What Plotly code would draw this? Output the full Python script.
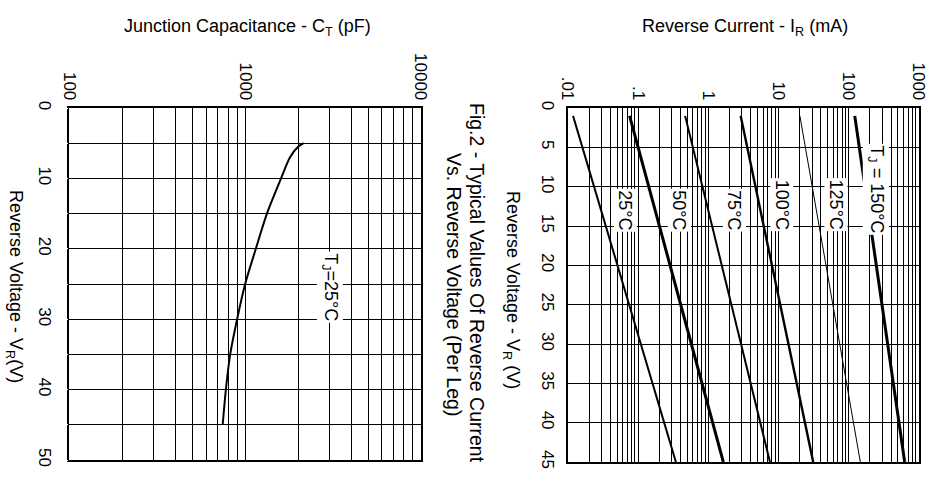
import plotly.graph_objects as go

W, H = 935, 481

# ---- data ----
cap_v = [5.0, 5.5, 7, 10, 15, 20, 25, 30, 35, 40, 45]
cap_pf = [2150, 2000, 1800, 1600, 1330, 1150, 1000, 900, 822, 777, 745]

ir_v = [1, 45]
ir_25 = [0.0118, 0.344]
ir_50 = [0.0754, 1.63]
ir_75 = [0.466, 7.53]
ir_100 = [2.88, 31.1]
ir_125 = [20.1, 146]
ir_150 = [121.6, 625]

ir_series = [("25°C", ir_25, 2.0), ("50°C", ir_50, 3.0), ("75°C", ir_75, 2.0),
             ("100°C", ir_100, 2.4), ("125°C", ir_125, 1.0), ("150°C", ir_150, 3.0)]

cap_ticks = ["100", "1000", "10000"]
ir_ticks = [".01", ".1", "1", "10", "100", "1000"]

cap_v_ticks = [0, 5, 10, 15, 20, 25, 30, 35, 40, 45, 50]
cap_v_text = ["0", "", "10", "", "20", "", "30", "", "40", "", "50"]
ir_v_ticks = [0, 5, 10, 15, 20, 25, 30, 35, 40, 45]

FONT = "Liberation Sans, Arial, sans-serif"

def px(x):
    return x / W

def py(y):
    return 1 - y / H

def log_ticks(e0, e1, labels):
    vals, txt = [], []
    for i, e in enumerate(range(e0, e1)):
        for m in range(1, 10):
            vals.append(m * 10 ** e)
            txt.append(labels[i] if m == 1 else "")
    vals.append(10 ** e1)
    txt.append(labels[-1])
    return vals, txt

fig = go.Figure()

fig.add_trace(go.Scatter(x=cap_pf, y=cap_v, mode="lines", xaxis="x", yaxis="y",
                         line=dict(color="black", width=2, shape="spline", smoothing=0.8),
                         showlegend=False, hoverinfo="skip"))
for name, vals, w in ir_series:
    fig.add_trace(go.Scatter(x=vals, y=ir_v, mode="lines", xaxis="x2", yaxis="y2",
                             line=dict(color="black", width=w), showlegend=False,
                             hoverinfo="skip"))

cv, ct = log_ticks(2, 4, cap_ticks)
iv, it = log_ticks(-2, 3, ir_ticks)

axis_common = dict(showline=True, mirror=True, linecolor="black", linewidth=1.5,
                   showgrid=True, gridcolor="black", gridwidth=1.2, zeroline=False,
                   automargin=False,
                   tickfont=dict(family=FONT, size=17, color="black"))

fig.update_layout(
    width=W, height=H, autosize=False,
    margin=dict(l=0, r=0, t=0, b=0, autoexpand=False),
    paper_bgcolor="white", plot_bgcolor="white",
    xaxis=dict(type="log", range=[2, 4], side="top", tickvals=cv, ticktext=ct, ticks="",
               tickangle=90, domain=[px(69.3), px(421)], anchor="y", **axis_common),
    yaxis=dict(range=[50, 0], tickvals=cap_v_ticks, ticktext=cap_v_text,
               tickangle=90, ticks="outside", ticklen=8, tickcolor="white",
               domain=[py(460), py(108)], anchor="x", **axis_common),
    xaxis2=dict(type="log", range=[-2, 3], side="top", tickvals=iv, ticktext=it, ticks="",
                tickangle=90, domain=[px(568), px(919)], anchor="y2", **axis_common),
    yaxis2=dict(range=[45, 0], tickvals=ir_v_ticks,
                tickangle=90, ticks="outside", ticklen=4, tickcolor="white",
                domain=[py(462), py(108)], anchor="x2", **axis_common),
)

ann_font = dict(family=FONT, size=18, color="black")
cap_font = dict(family=FONT, size=19.5, color="black")
C = dict(xanchor="center", yanchor="middle", showarrow=False)

annotations = [
    dict(text="Junction Capacitance - C<sub>T</sub> (pF)", x=px(247), y=py(27),
         xref="paper", yref="paper", font=ann_font, **C),
    dict(text="Reverse Current - I<sub>R</sub> (mA)", x=px(745), y=py(27),
         xref="paper", yref="paper", font=ann_font, **C),
    dict(text="Reverse Voltage - V<sub>R</sub>(V)", x=px(15), y=py(286), textangle=90,
         xref="paper", yref="paper", font=ann_font, **C),
    dict(text="Reverse Voltage - V<sub>R</sub> (V)", x=px(512), y=py(290), textangle=90,
         xref="paper", yref="paper", font=ann_font, **C),
    dict(text="Fig.2 - Typical Values Of Reverse Current",
         x=px(477), y=py(283), textangle=90, xref="paper", yref="paper", font=cap_font, **C),
    dict(text="Vs. Reverse Voltage (Per Leg)",
         x=px(454), y=py(284), textangle=90, xref="paper", yref="paper", font=cap_font, **C),
    dict(text="T<sub>J</sub>=25°C", x=3.48, y=25.4, xref="x", yref="y", textangle=90,
         font=ann_font, bgcolor="white", borderpad=1, **C),
]

# temperature labels on the reverse-current chart: (text, log10 x, voltage)
ir_labels = [("25°C", -1.188, 13), ("50°C", -0.417, 13), ("75°C", 0.367, 13),
             ("100°C", 1.05, 12.3), ("125°C", 1.82, 12.3), ("T<sub>J</sub> = 150°C", 2.38, 10.4)]
for txt, lx, v in ir_labels:
    annotations.append(dict(text=txt, x=lx, y=v, xref="x2", yref="y2", textangle=90,
                            font=ann_font, bgcolor="white", borderpad=1, **C))

fig.update_layout(annotations=annotations)

fig.write_html("out.html", config={"displayModeBar": False},
               post_script="document.body.style.margin='0';")
